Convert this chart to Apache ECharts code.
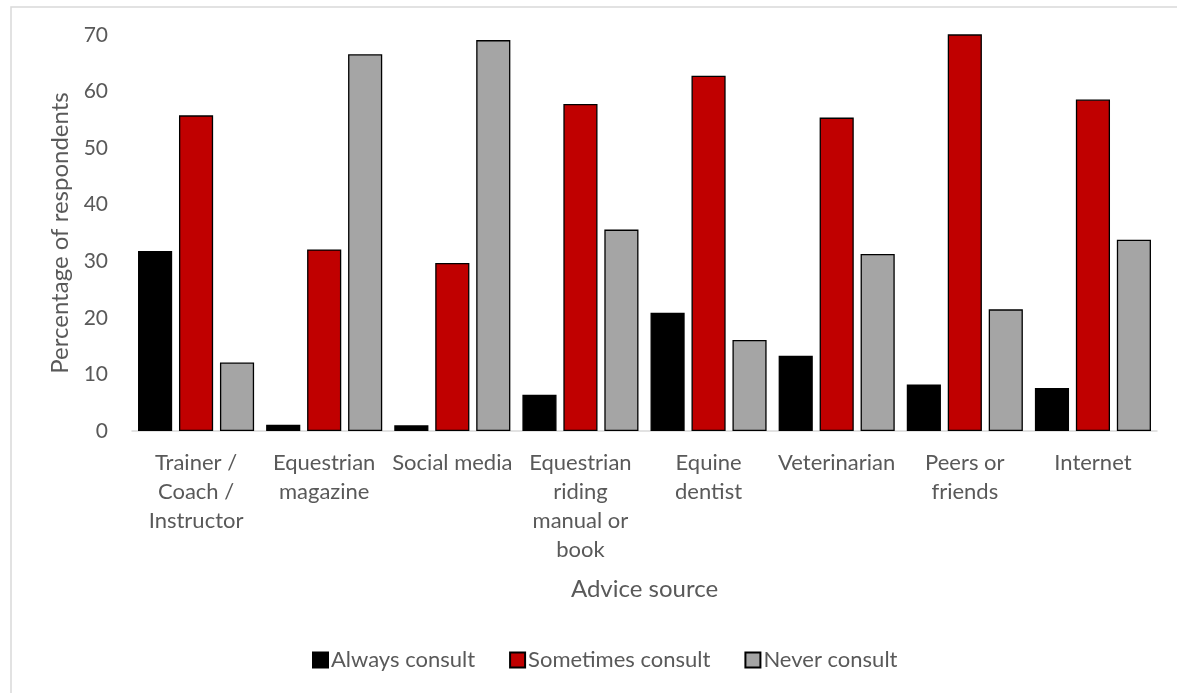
<!DOCTYPE html>
<html>
<head>
<meta charset="utf-8">
<script src="https://cdn.jsdelivr.net/npm/echarts@6/dist/echarts.min.js"></script>
<style>
  html, body { margin: 0; padding: 0; background: #ffffff; }
  #chart { width: 1177px; height: 693px; }
</style>
</head>
<body>
<div id="chart"></div>
<script>
// Advice sources surveyed
const categories = [
  'Trainer / Coach / Instructor',
  'Equestrian magazine',
  'Social media',
  'Equestrian riding manual or book',
  'Equine dentist',
  'Veterinarian',
  'Peers or friends',
  'Internet'
];

// Wrapped axis tick labels, one per category
const tickLabels = [
  'Trainer /\nCoach /\nInstructor',
  'Equestrian\nmagazine',
  'Social media',
  'Equestrian\nriding\nmanual or\nbook',
  'Equine\ndentist',
  'Veterinarian',
  'Peers or\nfriends',
  'Internet'
];

// Percentage of respondents per consultation frequency
const alwaysConsult    = [31.8, 1.1, 1.0, 6.4, 20.9, 13.3, 8.2, 7.6];
const sometimesConsult = [55.8, 32.1, 29.7, 57.8, 62.8, 55.4, 70.8, 58.6];
const neverConsult     = [12.1, 66.6, 69.1, 35.6, 16.1, 31.3, 21.5, 33.8];

const yTicks = { min: 0, max: 70, interval: 10 };

const textColor = '#595959';
const fontFamily = 'Lato, "Noto Sans", sans-serif';

const chart = echarts.init(document.getElementById('chart'), null, { renderer: 'canvas' });

function barSeries(name, data, color) {
  return {
    name: name,
    type: 'bar',
    data: data,
    clip: true,
    barGap: '20%',
    barCategoryGap: '9.4%',
    itemStyle: { color: color, borderColor: '#000000', borderWidth: 1.3 },
    emphasis: { disabled: true }
  };
}

chart.setOption({
  backgroundColor: '#ffffff',
  animation: false,
  textStyle: { fontFamily: fontFamily, color: textColor },
  graphic: [{
    type: 'rect',
    shape: { x: 11, y: 7, width: 1250, height: 760 },
    style: { fill: 'transparent', stroke: '#d9d9d9', lineWidth: 1.5 },
    silent: true,
    z: -1
  }],
  grid: { left: 132, right: 20, top: 35, bottom: 262, containLabel: false },
  legend: {
    data: ['Always consult', 'Sometimes consult', 'Never consult'],
    left: 307,
    top: 644,
    itemWidth: 15,
    itemHeight: 15,
    itemGap: 34,
    icon: 'rect',
    textStyle: { fontFamily: fontFamily, fontSize: 22, color: textColor, padding: [0, 0, 0, -2] }
  },
  xAxis: {
    type: 'category',
    data: categories,
    name: 'Advice source',
    nameLocation: 'middle',
    nameGap: 146,
    nameTextStyle: { fontFamily: fontFamily, fontSize: 24, color: textColor },
    axisLine: { show: true, lineStyle: { color: '#d9d9d9', width: 1.5 } },
    axisTick: { show: false },
    axisLabel: {
      interval: 0,
      margin: 17,
      fontFamily: fontFamily,
      fontSize: 22,
      lineHeight: 29,
      color: textColor,
      formatter: function (value, index) { return tickLabels[index]; }
    },
    splitLine: { show: false }
  },
  yAxis: {
    type: 'value',
    min: yTicks.min,
    max: yTicks.max,
    interval: yTicks.interval,
    name: 'Percentage of respondents',
    nameLocation: 'middle',
    nameGap: 56,
    nameRotate: 90,
    nameTextStyle: { fontFamily: fontFamily, fontSize: 24, color: textColor },
    axisLine: { show: false },
    axisTick: { show: false },
    axisLabel: { margin: 24, fontFamily: fontFamily, fontSize: 21, color: textColor },
    splitLine: { show: false }
  },
  series: [
    barSeries('Always consult', alwaysConsult, '#000000'),
    barSeries('Sometimes consult', sometimesConsult, '#c00000'),
    barSeries('Never consult', neverConsult, '#a5a5a5')
  ]
});
</script>
</body>
</html>
